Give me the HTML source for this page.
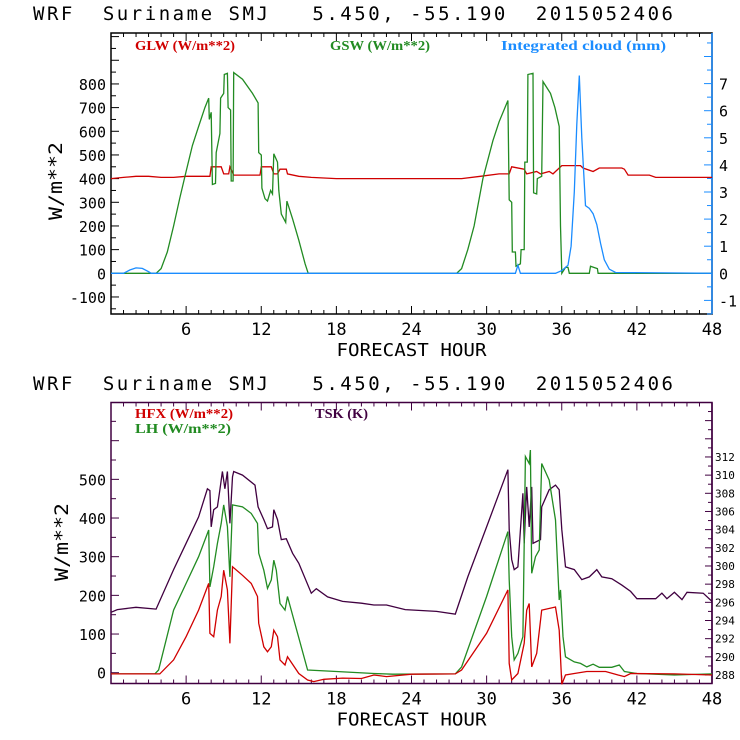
<!DOCTYPE html>
<html><head><meta charset="utf-8"><style>
html,body{margin:0;padding:0;background:#fff;}
svg{display:block;font-family:"DejaVu Sans Mono","Liberation Mono",monospace;}
.leg{font-family:"Liberation Serif",serif;font-weight:bold;font-size:14px;}
</style></head><body>
<svg id="chart" width="740" height="740" viewBox="0 0 740 740">
<text x="33" y="20" font-size="19" fill="#000" textLength="640" lengthAdjust="spacing" xml:space="preserve">WRF  Suriname SMJ   5.450, -55.190  2015052406</text>
<text x="33" y="390" font-size="19" fill="#000" textLength="640" lengthAdjust="spacing" xml:space="preserve">WRF  Suriname SMJ   5.450, -55.190  2015052406</text>
<g id="g1"></g>
<g id="g2"></g>
</svg>
<script>
// ---- data (hours, values) ----
const glwH=[0,1,2,3,4,5,6,7,7.9,8.0,8.8,9.0,9.4,9.5,9.8,11.9,12.0,12.8,13.0,13.3,13.5,14.0,14.1,15,16,18,28,29.5,31,31.8,32,33,33.2,34,34.3,35,35.3,35.5,36,37.5,37.7,38.5,39,40.8,41,41.3,43,43.5,48];
const glwV=[400,405,410,410,405,405,410,410,410,450,450,420,420,450,415,415,450,450,420,420,440,440,420,410,405,400,400,410,420,420,450,440,420,430,420,430,420,430,455,455,445,430,445,445,440,415,415,405,405];
const gswH=[0,3.6,4,4.5,5,5.5,6,6.5,7,7.5,7.8,7.85,8.0,8.1,8.35,8.4,8.7,8.75,9.0,9.05,9.3,9.35,9.55,9.6,9.75,9.8,10.5,11.3,11.75,11.8,12.0,12.05,12.3,12.5,12.75,12.9,13.0,13.3,13.4,13.6,13.95,14.05,14.5,15,15.5,15.75,27.6,28,28.5,29,29.7,30.5,31,31.7,31.8,32.0,32.05,32.3,32.35,32.7,32.75,33.0,33.05,33.25,33.3,33.7,33.75,34.0,34.05,34.4,34.5,35.1,35.45,35.8,35.9,36.0,36.3,36.5,36.6,38.2,38.3,38.85,38.9,48];
const gswV=[0,0,20,90,200,320,430,540,620,700,740,650,680,375,380,510,590,740,760,840,845,700,690,390,390,848,820,760,720,510,500,360,315,305,350,335,505,470,350,250,215,305,230,140,40,0,0,20,100,200,400,560,640,730,310,300,90,90,30,40,100,100,470,470,840,845,340,335,400,410,810,760,700,620,200,0,25,25,0,0,30,20,0,0];
const cldH=[0,1,1.5,2,2.5,3,3.2,32.3,32.5,32.7,35.5,36.0,36.5,36.75,37.0,37.2,37.4,37.6,37.9,38.2,38.5,38.8,39.1,39.4,39.8,40.3,48];
const cldV=[0,0,0.12,0.2,0.18,0.06,0,0,0.3,0,0,0.1,0.3,1.0,3.0,5.5,7.3,5.0,2.5,2.4,2.2,1.8,1.1,0.5,0.15,0.03,0];
const tskH=[0,0.5,2,3.6,5,6,7,7.7,7.9,8.0,8.2,8.5,8.7,8.9,9.1,9.3,9.5,9.7,9.8,10.5,11.5,11.75,12.2,12.5,12.9,13.0,13.3,13.6,14.0,14.5,15,16,16.4,17.3,18.5,20,21,22,23.5,26,27.5,28.5,30,31.7,31.8,32,32.2,32.5,32.9,33.0,33.2,33.4,33.6,33.7,34.3,34.4,35,35.5,35.8,36,36.3,37,37.6,38.2,38.8,39.2,40,40.8,41.5,42,43.5,44,44.4,45,45.6,46,47.3,48];
const tskV=[294.9,295.2,295.45,295.25,299.6,302.5,305.4,308.5,308.3,304.3,306.2,306.5,308.4,310.4,308.5,310.4,304.7,309.8,310.4,310.0,308.9,306.5,305.1,304.1,304.3,306.2,305.1,302.9,303.0,301.4,300.3,297.0,297.5,296.6,296.1,295.9,295.7,295.7,295.2,295.0,294.7,298.8,304.3,310.6,304.0,300.7,299.6,299.9,308.0,302.5,308.7,304.3,308.7,302.5,302.9,306.5,308.4,308.9,308.4,304.0,299.9,299.6,298.5,298.8,299.6,298.8,298.6,297.9,297.2,296.4,296.4,297.0,296.4,297.1,296.3,297.1,297.0,296.1];
const lhH=[0,3.5,3.8,5,6,7,7.8,7.9,8.2,8.5,8.8,9.0,9.3,9.5,9.7,10.5,11.2,11.7,11.8,12.2,12.5,12.8,13.0,13.2,13.5,13.9,14.1,15.7,18,21,22.5,27.5,28,30,31.7,31.8,32.0,32.2,32.5,32.9,33.0,33.1,33.4,33.5,33.6,33.9,34.2,34.4,35,35.5,35.8,35.9,36.1,36.3,37,37.5,38,38.5,39,40,40.6,41,42,45,48];
const lhV=[-3,-3,7,162,231,300,369,222,274,334,386,434,378,248,434,429,412,386,309,265,218,240,291,265,179,162,197,7,3,-2,-4,-3,15,197,365,240,93,33,50,93,334,559,541,576,257,300,317,541,498,395,188,214,93,41,28,24,15,22,14,14,20,3,-2,-6,-3];
const hfxH=[0,3.9,5,6,7,7.8,7.9,8.2,8.5,8.8,9.0,9.3,9.5,9.7,10.5,11.2,11.7,11.8,12.2,12.5,12.8,13.0,13.3,13.5,13.9,14.1,15,15.7,16.2,17,18.5,20,21,22,24,27.5,28,30,31.7,31.8,32.0,32.5,33.0,33.2,33.4,33.6,34.0,34.4,35.5,35.8,36.0,36.3,37,38,39.5,40.5,41,41.5,45,48];
const hfxV=[-3,-3,33,93,162,231,102,93,162,197,265,214,76,274,252,231,197,128,67,54,67,110,93,33,20,41,-2,-19,-23,-17,-14,-15,-6,-10,-4,-3,7,102,214,24,-19,-2,76,162,179,15,50,162,170,110,-30,-6,-2,3,3,-6,-10,-2,-3,-6];
const xTicks=[6,12,18,24,30,36,42,48];
const topLeftTicks=[-100,0,100,200,300,400,500,600,700,800];
const topRightTicks=[-1,0,1,2,3,4,5,6,7];
const botLeftTicks=[0,100,200,300,400,500];
const botRightTicks=[288,290,292,294,296,298,300,302,304,306,308,310,312];

const NS="http://www.w3.org/2000/svg";
function mk(parent,tag,attrs,text){const e=document.createElementNS(NS,tag);for(const k in attrs)e.setAttribute(k,attrs[k]);if(text!==undefined)e.textContent=text;parent.appendChild(e);return e;}
const X0=111,X1=712;
const xs=h=>X0+(X1-X0)*h/48;
function line(g,H,V,fy,color,name){
  let d="";for(let i=0;i<H.length;i++){d+=(i?"L":"M")+xs(H[i]).toFixed(1)+","+fy(V[i]).toFixed(1);}
  const p=mk(g,"path",{d:d,fill:"none",stroke:color,"stroke-width":"1.3"});
  
  
}
function frame(g,top,bot,rightCol,frameCol,name){
  const r=mk(g,"rect",{x:X0,y:top,width:X1-X0,height:bot-top,fill:"none",stroke:frameCol,"stroke-width":"1.5"});
  
  
  mk(g,"line",{x1:X1,y1:top,x2:X1,y2:bot,stroke:rightCol,"stroke-width":"1.5"});
  for(let h=1;h<48;h++){const L=h%6===0?8:4;
    mk(g,"line",{x1:xs(h),y1:bot,x2:xs(h),y2:bot-L,stroke:frameCol});
    mk(g,"line",{x1:xs(h),y1:top,x2:xs(h),y2:top+L,stroke:frameCol});}
  xTicks.forEach(t=>{const tx=mk(g,"text",{x:xs(t),y:bot+21,"font-size":"17","text-anchor":"middle",fill:"#000"},String(t));
    
    });
  const xl=mk(g,"text",{x:(X0+X1)/2,y:bot+42,"font-size":"18","text-anchor":"middle",fill:"#000",textLength:"150",lengthAdjust:"spacingAndGlyphs"},"FORECAST HOUR");
  
  
}
// ---- top chart ----
const g1=document.getElementById("g1");
const T1=33,B1=314;
const fy1=v=>273.3-v*0.2367;
const fr1=v=>273.3-v*27.1;
frame(g1,T1,B1,"#1a8cff","#000","top-plot-frame");
for(let v=-150;v<=1000;v+=50){const y=fy1(v);if(y>T1&&y<B1)mk(g1,"line",{x1:X0,y1:y,x2:X0+(v%100===0?8:5),y2:y,stroke:"#000"});}
topLeftTicks.forEach(v=>{const t=mk(g1,"text",{x:106,y:fy1(v)+6,"font-size":"15","text-anchor":"end",fill:"#000"},String(v));
  
  });
for(let v=-1.5;v<=9;v+=0.5){const y=fr1(v);if(y>T1&&y<B1)mk(g1,"line",{x1:X1,y1:y,x2:X1-(Number.isInteger(v)?8:5),y2:y,stroke:"#1a8cff"});}
topRightTicks.forEach(v=>{const t=mk(g1,"text",{x:719,y:fr1(v)+6,"font-size":"15",fill:"#000"},String(v));
  
  });
const yt1=mk(g1,"text",{x:0,y:0,"font-size":"19",fill:"#000","text-anchor":"middle",textLength:"78",lengthAdjust:"spacingAndGlyphs",transform:"translate(62,181) rotate(-90)"},"W/m**2");


line(g1,glwH,glwV,fy1,"#d00000","glw-line");
line(g1,gswH,gswV,fy1,"#228b22","gsw-line");
line(g1,cldH,cldV,fr1,"#1a8cff","cloud-line");
[["GLW (W/m**2)",135,100,"#d00000","legend-glw"],["GSW (W/m**2)",330,100,"#228b22","legend-gsw"],["Integrated cloud (mm)",501,165,"#1a8cff","legend-cloud"]].forEach(a=>{
  const t=mk(g1,"text",{x:a[1],y:50,class:"leg",fill:a[3],textLength:a[2],lengthAdjust:"spacingAndGlyphs"},a[0]);
  
  });
// ---- bottom chart ----
const g2=document.getElementById("g2");
const T2=402.5,B2=683.5;
const fy2=v=>672.7-v*0.3867;
const fr2=v=>675-(v-288)*9.085;
const PUR="#400040";
frame(g2,T2,B2,PUR,PUR,"bottom-plot-frame");
for(let v=0;v<=700;v+=50){const y=fy2(v);if(y>T2&&y<B2)mk(g2,"line",{x1:X0,y1:y,x2:X0+(v%100===0?8:5),y2:y,stroke:PUR});}
botLeftTicks.forEach(v=>{const t=mk(g2,"text",{x:106,y:fy2(v)+6,"font-size":"15","text-anchor":"end",fill:"#000"},String(v));
  
  });
for(let v=288;v<=318;v+=1){const y=fr2(v);if(y>T2&&y<B2)mk(g2,"line",{x1:X1,y1:y,x2:X1-(v%2===0?7:4),y2:y,stroke:PUR});}
botRightTicks.forEach(v=>{const t=mk(g2,"text",{x:715,y:fr2(v)+4,"font-size":"11",fill:"#000"},String(v));
  
  });
const yt2=mk(g2,"text",{x:0,y:0,"font-size":"19",fill:"#000","text-anchor":"middle",textLength:"78",lengthAdjust:"spacingAndGlyphs",transform:"translate(68,542) rotate(-90)"},"W/m**2");


line(g2,tskH,tskV,fr2,PUR,"tsk-line");
line(g2,lhH,lhV,fy2,"#228b22","lh-line");
line(g2,hfxH,hfxV,fy2,"#d00000","hfx-line");
[["HFX (W/m**2)",135,418,98,"#d00000","legend-hfx"],["LH  (W/m**2)",135,433,96,"#228b22","legend-lh"],["TSK (K)",315,418,53,PUR,"legend-tsk"]].forEach(a=>{
  const t=mk(g2,"text",{x:a[1],y:a[2],class:"leg",fill:a[4],textLength:a[3],lengthAdjust:"spacingAndGlyphs","xml:space":"preserve"},a[0]);
  
  });
</script>
</body></html>
